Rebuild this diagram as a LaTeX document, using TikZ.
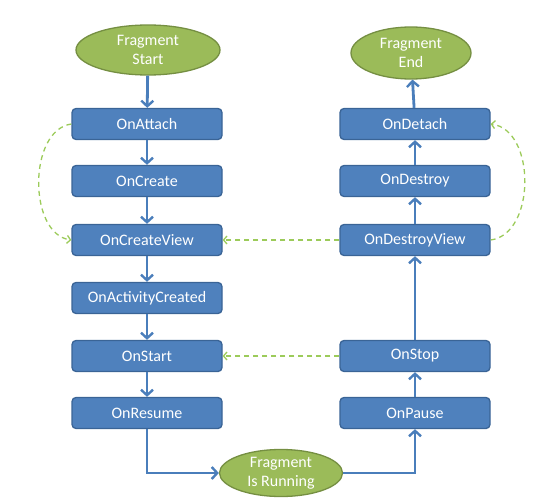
\documentclass[tikz,border=0pt]{standalone}
\usepackage{fontspec}
\setmainfont{Carlito}
\usetikzlibrary{arrows.meta,shapes.geometric}
\definecolor{boxfill}{HTML}{4F81BD}
\definecolor{boxline}{HTML}{3A6496}
\definecolor{ellfill}{HTML}{9BBB59}
\definecolor{ellline}{HTML}{758F42}
\definecolor{flow}{HTML}{4A7EBB}
\definecolor{dash}{HTML}{9CCB5A}
\tikzset{
  stepbox/.style={draw=boxline, line width=1.3pt, fill=boxfill, rounded corners=4pt,
    minimum width=150pt, minimum height=31pt, text=white, font=\fontsize{16}{17}\selectfont, inner sep=0pt},
  endpoint/.style={draw=ellline, line width=1.3pt, fill=ellfill, ellipse, text=white,
    font=\fontsize{16}{18.5}\selectfont, align=center, inner sep=0pt},
  flowarrow/.style={draw=flow, line width=2.8pt, -{Straight Barb[length=5.5pt,width=12pt,line width=2.4pt]}},
  backarrow/.style={draw=dash, line width=1.3pt, dashed, dash pattern=on 5pt off 4pt,
    -{Straight Barb[length=3.5pt,width=8pt,line width=1.3pt]}},
}
\begin{document}
\begin{tikzpicture}[x=1pt,y=-1pt]
\useasboundingbox (0,0) rectangle (554,500);
% ellipses
\node[endpoint, minimum width=144pt, minimum height=50pt] (start) at (148,50) {Fragment\\Start};
\node[endpoint, minimum width=120pt, minimum height=52pt] (end) at (411,53) {Fragment\\End};
\node[endpoint, minimum width=123pt, minimum height=47pt] (run) at (281,473) {Fragment\\Is Running};
% left column
\node[stepbox] (attach) at (147,124) {OnAttach};
\node[stepbox] (create) at (147,181) {OnCreate};
\node[stepbox] (cview) at (147,240) {OnCreateView};
\node[stepbox] (actc) at (147,298) {OnActivityCreated};
\node[stepbox] (startb) at (147,356) {OnStart};
\node[stepbox] (resume) at (147,413) {OnResume};
% right column
\node[stepbox] (detach) at (415,124) {OnDetach};
\node[stepbox] (destroy) at (415,181) {OnDestroy};
\node[stepbox] (dview) at (415,240) {OnDestroyView};
\node[stepbox] (stop) at (415,356) {OnStop};
\node[stepbox] (pause) at (415,413) {OnPause};
% flow
\draw[flowarrow] (start) -- (attach);
\draw[flowarrow] (attach) -- (create);
\draw[flowarrow] (create) -- (cview);
\draw[flowarrow] (cview) -- (actc);
\draw[flowarrow] (actc) -- (startb);
\draw[flowarrow] (startb) -- (resume);
\draw[flowarrow] (resume.south) |- (run.west);
\draw[flowarrow] (run.east) -| (pause.south);
\draw[flowarrow] (pause) -- (stop);
\draw[flowarrow] (stop) -- (dview);
\draw[flowarrow] (dview) -- (destroy);
\draw[flowarrow] (destroy) -- (detach);
\draw[flowarrow] (detach) -- (end);
% back loops
\draw[backarrow] (attach.west) .. controls (28,130) and (28,234) .. (cview.west);
\draw[backarrow] (dview.east) .. controls (536,234) and (536,130) .. (detach.east);
\draw[backarrow] (dview.west) -- (cview.east);
\draw[backarrow] (stop.west) -- (startb.east);
\end{tikzpicture}
\end{document}
